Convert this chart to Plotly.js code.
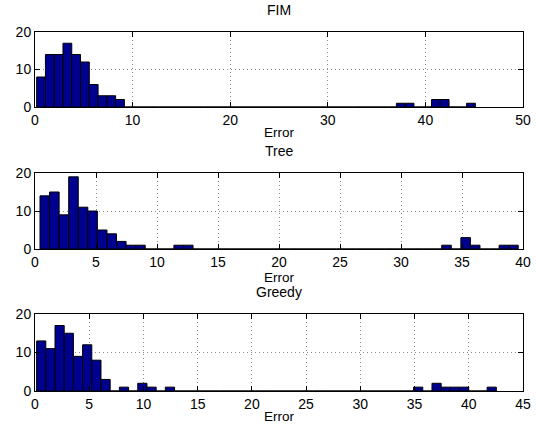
<!DOCTYPE html>
<html>
<head>
<meta charset="utf-8">
<script src="https://cdn.plot.ly/plotly-3.0.1.min.js"></script>
<style>html,body{margin:0;padding:0;background:#fff;}#chart{width:537px;height:430px;}</style>
</head>
<body>
<div id="chart"></div>
<script>
// Histogram counts (50 bins each)
var panelTitles = ["FIM", "Tree", "Greedy"];
var fimCounts = [8,14,14,17,14,12,6,3,3,2, 0,0,0,0,0,0,0,0,0,0, 0,0,0,0,0,0,0,0,0,0, 0,0,0,0,0,0,0,0,0,0, 0,1,1,0,0,2,2,0,0,1];
var treeCounts = [14,15,9,19,11,10,5,4,2,1, 1,0,0,0,1,1,0,0,0,0, 0,0,0,0,0,0,0,0,0,0, 0,0,0,0,0,0,0,0,0,0, 0,0,1,0,3,1,0,0,1,1];
var greedyCounts = [13,11,17,15,9,12,8,3,0,1, 0,2,1,0,1,0,0,0,0,0, 0,0,0,0,0,0,0,0,0,0, 0,0,0,0,0,0,0,0,0,0, 0,1,0,2,1,1,1,0,0,1];
// Data range (min, max error) of each histogram
var fimRange = [0.17, 45.12];
var treeRange = [0.41, 39.61];
var greedyRange = [0.15, 42.54];
// Axis limits and tick spacing
var xLimits = [[0, 50], [0, 40], [0, 45]];
var xTickSteps = [10, 5, 5];
var yTickVals = [0, 10, 20];
var xLabel = "Error";

var countsList = [fimCounts, treeCounts, greedyCounts];
var rangesList = [fimRange, treeRange, greedyRange];
var FAM = "Liberation Sans, Arial, Helvetica, sans-serif";
var TICKFONT = {family: FAM, size: 14, color: "#000"};
var LABELFONT = {family: FAM, size: 13.5, color: "#000"};
var TITLEFONT = {family: FAM, size: 14, color: "#000"};
var domains = [[0.7911, 1], [0.3955, 0.6072], [0, 0.2145]];

var traces = [];
var layout = {
  width: 537, height: 430,
  margin: {l: 35, r: 14, t: 32, b: 39},
  paper_bgcolor: "#fff", plot_bgcolor: "#fff",
  showlegend: false,
  bargap: 0,
  font: TICKFONT,
  annotations: []
};

for (var p = 0; p < 3; p++) {
  var c = countsList[p], r = rangesList[p];
  var w = (r[1] - r[0]) / c.length;
  var xs = c.map(function (_, k) { return r[0] + w * (k + 0.5); });
  var ax = p === 0 ? "" : String(p + 1);
  traces.push({
    type: "bar", x: xs, y: c, width: w,
    xaxis: "x" + ax, yaxis: "y" + ax,
    marker: {color: "#00008F", line: {color: "#000", width: 1}},
    hoverinfo: "x+y"
  });
  var common = {
    showline: true, mirror: "ticks", linecolor: "#000", linewidth: 1,
    ticks: "inside", ticklen: 5, tickcolor: "#000", tickwidth: 1,
    showgrid: true, gridcolor: "#8a8a8a", griddash: "1px,3px", gridwidth: 1,
    zeroline: false, tickfont: TICKFONT, automargin: false, fixedrange: true
  };
  var xa = Object.assign({}, common, {
    range: xLimits[p], tickmode: "linear", tick0: 0, dtick: xTickSteps[p],
    anchor: "y" + ax,
    title: {text: xLabel, font: LABELFONT, standoff: 0}
  });
  var ya = Object.assign({}, common, {
    range: [0, 20], tickmode: "array", tickvals: yTickVals,
    domain: domains[p], anchor: "x" + ax
  });
  layout["xaxis" + ax] = xa;
  layout["yaxis" + ax] = ya;
  layout.annotations.push({
    text: panelTitles[p], xref: "paper", yref: "paper",
    x: 0.5, y: domains[p][1], xanchor: "center", yanchor: "bottom",
    yshift: 12, showarrow: false, font: TITLEFONT
  });
}

Plotly.newPlot("chart", traces, layout, {displayModeBar: false, staticPlot: true});
</script>
</body>
</html>
